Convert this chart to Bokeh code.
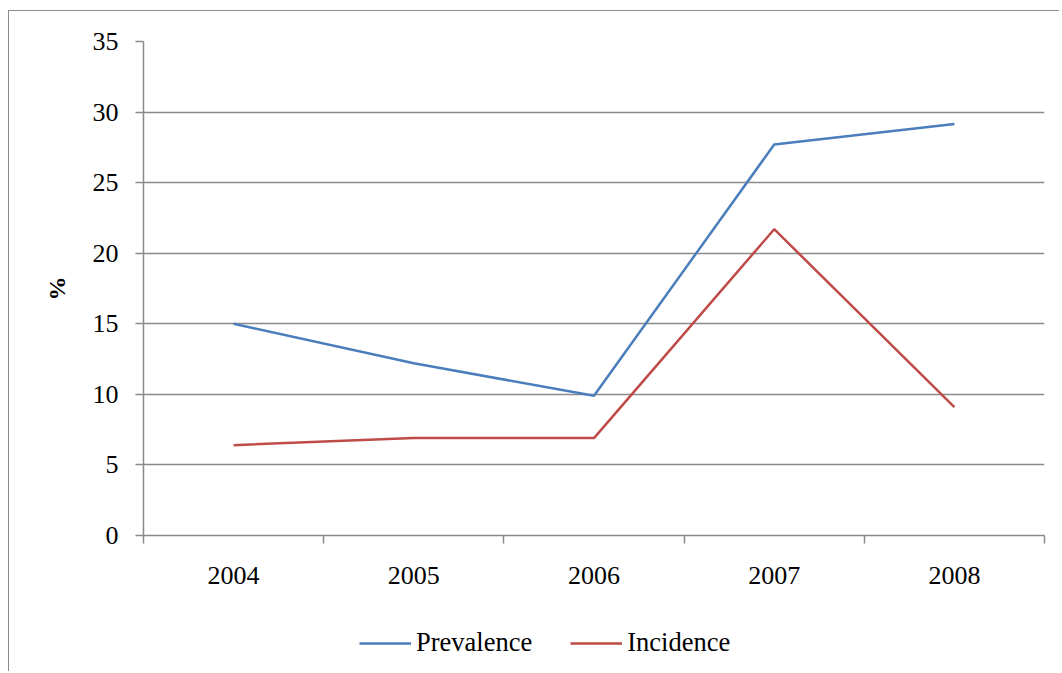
from bokeh.plotting import figure
from bokeh.layouts import column
from bokeh.models import Range1d, FixedTicker, Legend, LegendItem
from bokeh.embed import file_html
from bokeh.resources import INLINE

years = ["2004", "2005", "2006", "2007", "2008"]
prevalence = [15.0, 12.2, 9.9, 27.7, 29.15]
incidence = [6.4, 6.9, 6.9, 21.7, 9.1]
y_ticks = [0, 5, 10, 15, 20, 25, 30, 35]
series_names = ["Prevalence", "Incidence"]
series_colors = ["#4A7EBB", "#BE4B48"]

FONT = "Liberation Serif"
GRID = "#8a8a8a"

xs = [i + 0.5 for i in range(len(years))]

p = figure(frame_width=901, frame_height=494, output_backend="svg", toolbar_location=None,
           x_range=Range1d(0, len(years)), y_range=Range1d(0, 35),
           min_border_left=134, min_border_right=15, min_border_top=30, min_border_bottom=70)
p.outline_line_color = None
p.background_fill_color = "white"
p.border_fill_color = "white"

# y axis
p.yaxis.ticker = FixedTicker(ticks=y_ticks)
p.yaxis.axis_line_color = GRID
p.yaxis.axis_line_width = 1.5
p.yaxis.major_tick_line_color = GRID
p.yaxis.major_tick_line_width = 1.5
p.yaxis.major_tick_out = 8
p.yaxis.major_tick_in = 0
p.yaxis.minor_tick_line_color = None
p.yaxis.major_label_standoff = 17
p.yaxis.major_label_text_font = FONT
p.yaxis.major_label_text_font_size = "26px"
p.yaxis.major_label_text_color = "black"
p.yaxis.axis_label = "%"
p.yaxis.axis_label_text_font = FONT
p.yaxis.axis_label_text_font_size = "24px"
p.yaxis.axis_label_text_font_style = "bold"
p.yaxis.axis_label_text_color = "black"
p.yaxis.axis_label_standoff = 20

# x axis
p.xaxis.ticker = FixedTicker(ticks=xs, minor_ticks=list(range(len(years) + 1)))
p.xaxis.major_label_overrides = {x: y for x, y in zip(xs, years)}
p.xaxis.axis_line_color = GRID
p.xaxis.axis_line_width = 1.5
p.xaxis.major_tick_line_color = None
p.xaxis.minor_tick_line_color = GRID
p.xaxis.minor_tick_line_width = 1.5
p.xaxis.minor_tick_out = 8
p.xaxis.minor_tick_in = 0
p.xaxis.major_label_standoff = 23
p.xaxis.major_label_text_font = FONT
p.xaxis.major_label_text_font_size = "26px"
p.xaxis.major_label_text_color = "black"

p.xgrid.grid_line_color = None
p.ygrid.ticker = FixedTicker(ticks=y_ticks)
p.ygrid.grid_line_color = GRID
p.ygrid.grid_line_width = 1.5

series_values = [prevalence, incidence]
for vals, col in zip(series_values, series_colors):
    p.line(xs, vals, line_color=col, line_width=2.5)

# legend strip below the chart (its lines lie outside its visible range)
q = figure(width=1050, height=66, output_backend="svg", toolbar_location=None,
           x_axis_type=None, y_axis_type=None, x_range=Range1d(0, 1), y_range=Range1d(0, 1),
           min_border=0, min_border_left=0, min_border_right=0, min_border_top=0, min_border_bottom=0)
q.outline_line_color = None
q.grid.visible = False
q.background_fill_color = "white"
q.border_fill_color = "white"
items = []
for name, vals, col in zip(series_names, series_values, series_colors):
    rr = q.line(xs, vals, line_color=col, line_width=2.5)
    items.append(LegendItem(label=name, renderers=[rr]))
legend = Legend(items=items, orientation="horizontal", location=(216, 13),
                glyph_width=52, glyph_height=20, label_standoff=5, spacing=38,
                padding=0, margin=0, border_line_color=None, background_fill_alpha=0,
                label_text_font=FONT, label_text_font_size="26.5px", label_text_color="black")
q.add_layout(legend)

layout = column(p, q, spacing=0)
layout.styles = {"border-left": "1.5px solid #8c8c8c", "border-top": "1.5px solid #8c8c8c",
                 "margin-left": "8px", "margin-top": "10px"}

open("out.html", "w").write(file_html(layout, INLINE))
